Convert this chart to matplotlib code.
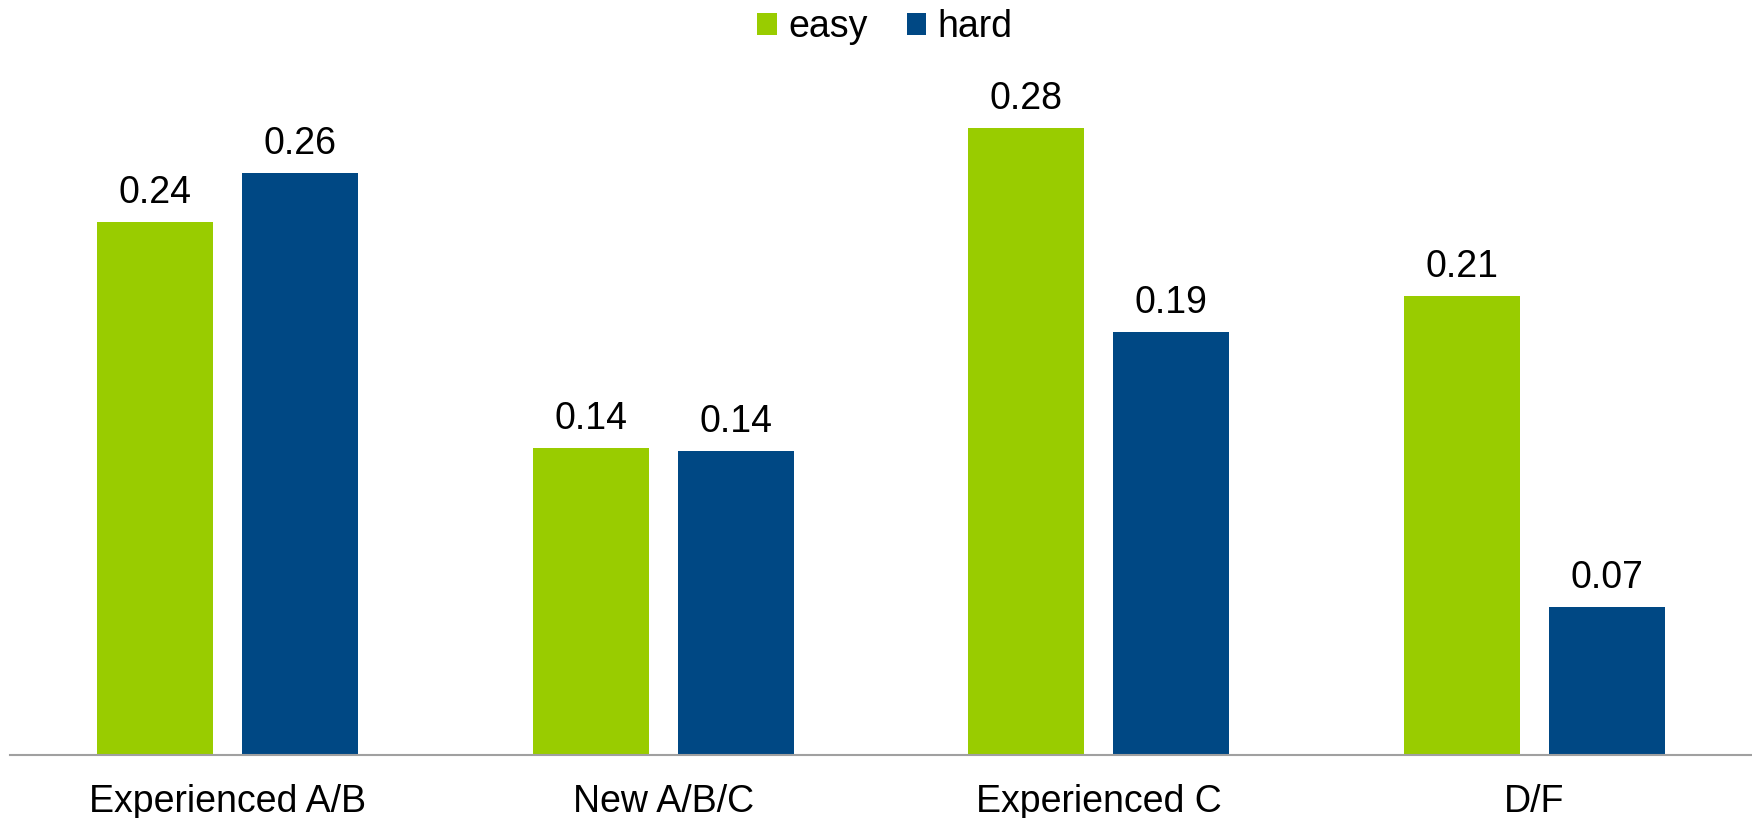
import numpy as np
import matplotlib.pyplot as plt

plt.rcParams['font.family'] = ['Liberation Sans', 'DejaVu Sans']

groups = ["Experienced A/B", "New A/B/C", "Experienced C", "D/F"]
easy = [0.2384, 0.1372, 0.2801, 0.2052]
hard = [0.2603, 0.1358, 0.1892, 0.0663]

green = "#99CC00"
blue = "#004884"

fig = plt.figure(figsize=(17.52, 8.18), dpi=100)
ax = fig.add_axes([0.0057, 0.077, 0.9943, 0.8477])

x = np.arange(len(groups))
w = 0.267
off = 0.1667
b1 = ax.bar(x - off, easy, w, color=green, label="easy")
b2 = ax.bar(x + off, hard, w, color=blue, label="hard")

for bars in (b1, b2):
    for r in bars:
        ax.annotate("%.2f" % r.get_height(), (r.get_x() + r.get_width() / 2, r.get_height()),
                    xytext=(0, 8), textcoords="offset points",
                    ha="center", va="bottom", fontsize=27)

ax.set_xlim(-0.5, 3.5)
ax.set_ylim(0, 0.31)
ax.set_xticks(x)
ax.set_xticklabels(groups, fontsize=27)
ax.tick_params(axis="x", length=0, pad=21)
ax.set_yticks([])
for s in ("top", "right", "left"):
    ax.spines[s].set_visible(False)
ax.spines["bottom"].set_color("#A0A0A0")
ax.spines["bottom"].set_linewidth(1.5)

fig.legend(handles=[b1, b2], loc="center", bbox_to_anchor=(885 / 1752, 1 - 27 / 818),
           ncol=2, frameon=False, fontsize=27, handlelength=0.52, handleheight=0.52,
           handletextpad=0.3, columnspacing=1.05)

fig.savefig("out.png", dpi=100)
